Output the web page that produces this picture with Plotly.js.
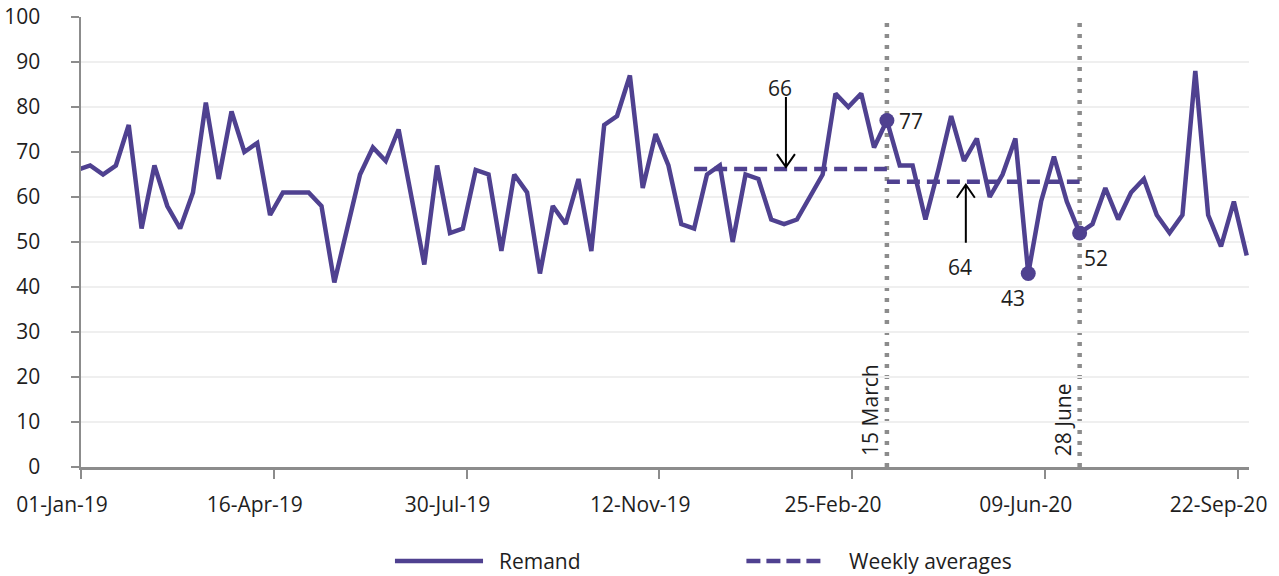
<!DOCTYPE html>
<html>
<head>
<meta charset="utf-8">
<script src="https://cdn.plot.ly/plotly-3.0.1.min.js"></script>
<style>
  html, body { margin: 0; padding: 0; background: #ffffff; }
  #chart { width: 1279px; height: 576px; }
</style>
</head>
<body>
<div id="chart"></div>
<script>
// ---------------- data ----------------
// Weekly series (week ending Sundays), first week 30-Dec-2018
const weekStart = '2018-12-30';
const remandValues = [
  66, 67, 65, 67, 76, 53, 67, 58, 53, 61,
  81, 64, 79, 70, 72, 56, 61, 61, 61, 58,
  41, 53, 65, 71, 68, 75, 60, 45, 67, 52,
  53, 66, 65, 48, 65, 61, 43, 58, 54, 64,
  48, 76, 78, 87, 62, 74, 67, 54, 53, 65,
  67, 50, 65, 64, 55, 54, 55, 60, 65, 83,
  80, 83, 71, 77, 67, 67, 55, 66, 78, 68,
  73, 60, 65, 73, 43, 59, 69, 59, 52, 54,
  62, 55, 61, 64, 56, 52, 56, 88, 56, 49,
  59, 47
];
// Weekly-average periods
const avgStart = ['2019-12-01', '2020-03-15'];
const avgEnd   = ['2020-03-15', '2020-06-28'];
const avgValue = [66.2, 63.4];
const avgLabel = ['66', '64'];
// Reference dates
const eventDates  = ['2020-03-15', '2020-06-28'];
const eventLabels = ['15 March', '28 June'];
// Highlighted points
const highlightDates = ['2020-03-15', '2020-05-31', '2020-06-28'];
// x tick labels
const xTickDates = ['2019-01-01', '2019-04-16', '2019-07-30', '2019-11-12', '2020-02-25', '2020-06-09', '2020-09-22'];
const xTickText  = ['01-Jan-19', '16-Apr-19', '30-Jul-19', '12-Nov-19', '25-Feb-20', '09-Jun-20', '22-Sep-20'];

// ---------------- build ----------------
function addDays(iso, n) {
  const d = new Date(iso + 'T00:00:00Z');
  d.setUTCDate(d.getUTCDate() + n);
  return d.toISOString().slice(0, 10);
}
const weekDates = remandValues.map((_, i) => addDays(weekStart, 7 * i));

const PURPLE = '#4f4190';
const GREY = '#8c8c8c';
const FONT = 'Open Sans, Noto Sans, DejaVu Sans, sans-serif';
const TXT = '#1e1e1e';

const traces = [];
traces.push({
  type: 'scatter', mode: 'lines', name: 'Remand',
  x: weekDates, y: remandValues,
  line: { color: PURPLE, width: 4.5 },
  showlegend: false, hoverinfo: 'x+y'
});
avgValue.forEach((v, i) => {
  traces.push({
    type: 'scatter', mode: 'lines', name: 'Weekly averages',
    x: [avgStart[i], avgEnd[i]], y: [v, v],
    line: { color: PURPLE, width: 4.5, dash: '13px,7px' },
    showlegend: false
  });
});
const hlY = highlightDates.map(d => remandValues[weekDates.indexOf(d)]);
traces.push({
  type: 'scatter', mode: 'markers', name: 'highlight',
  x: highlightDates, y: hlY,
  marker: { color: PURPLE, size: 15 },
  showlegend: false, cliponaxis: false
});

const shapes = [];
const annotations = [];

// event lines + labels
eventDates.forEach((d, i) => {
  shapes.push({
    type: 'line', xref: 'x', yref: 'y', x0: d, x1: d, y0: 0, y1: 100,
    line: { color: GREY, width: 4.5, dash: '4px,7px' }, layer: 'below'
  });
  annotations.push({
    x: d, y: 2, xref: 'x', yref: 'y', text: eventLabels[i], showarrow: false,
    textangle: -90, xanchor: 'center', yanchor: 'bottom', xshift: -17,
    font: { family: FONT, size: 21, color: TXT }
  });
});

// average arrows (pixel-sized shapes anchored on the average line) + labels
const arrowX = ['2020-01-20', '2020-04-27'];
const arrowDir = [-1, 1];   // -1: arrow points down from above, 1: points up from below
avgValue.forEach((v, i) => {
  const s = arrowDir[i];
  const tipOff = s < 0 ? 2 : -3;      // tip just touches the dashed line
  const len = s < 0 ? 70 : 58;
  const tail = tipOff - s * len;
  const arm = tipOff - s * 13;
  shapes.push({
    type: 'path', xref: 'x', yref: 'y', xsizemode: 'pixel', ysizemode: 'pixel',
    xanchor: arrowX[i], yanchor: v,
    path: 'M0,' + tail + ' L0,' + tipOff + ' M-9,' + arm + ' L0,' + tipOff + ' L9,' + arm,
    line: { color: '#000000', width: 2 }
  });
  annotations.push({
    x: arrowX[i], y: v, xref: 'x', yref: 'y', text: avgLabel[i], showarrow: false,
    xshift: -6, yshift: s < 0 ? 81 : -85,
    font: { family: FONT, size: 21, color: TXT }
  });
});

// point labels
const hlShiftX = [24, -15, 16];
const hlShiftY = [0, -24, -25];
highlightDates.forEach((d, i) => {
  annotations.push({
    x: d, y: hlY[i], xref: 'x', yref: 'y', text: String(hlY[i]), showarrow: false,
    xshift: hlShiftX[i], yshift: hlShiftY[i], xanchor: 'center',
    font: { family: FONT, size: 21, color: TXT }
  });
});

// custom legend
const legY = -0.209;
shapes.push({ type: 'line', xref: 'paper', yref: 'paper', x0: 0.2688, x1: 0.3442, y0: legY, y1: legY,
  line: { color: PURPLE, width: 4.5 } });
shapes.push({ type: 'line', xref: 'paper', yref: 'paper', x0: 0.5697, x1: 0.6367, y0: legY, y1: legY,
  line: { color: PURPLE, width: 4.5, dash: '14px,6px' } });
annotations.push({ x: 0.356, y: legY, xref: 'paper', yref: 'paper', text: 'Remand', showarrow: false,
  xanchor: 'left', yanchor: 'middle', font: { family: FONT, size: 21, color: TXT } });
annotations.push({ x: 0.6555, y: legY, xref: 'paper', yref: 'paper', text: 'Weekly averages', showarrow: false,
  xanchor: 'left', yanchor: 'middle', font: { family: FONT, size: 21, color: TXT } });

const layout = {
  width: 1279, height: 576,
  margin: { l: 81, r: 30, t: 17, b: 109 },
  paper_bgcolor: '#ffffff', plot_bgcolor: '#ffffff',
  showlegend: false,
  font: { family: FONT, size: 21, color: TXT },
  xaxis: {
    type: 'date', range: ['2019-01-01', '2020-09-28 06:00'],
    tickvals: xTickDates, ticktext: xTickText,
    showgrid: false, zeroline: false,
    showline: true, linecolor: GREY, linewidth: 2.5,
    ticks: 'outside', ticklen: 9, tickwidth: 2, tickcolor: GREY,
    ticklabelstandoff: 8, ticklabelshift: -19, ticklabeloverflow: 'allow',
    tickfont: { family: FONT, size: 21, color: TXT }
  },
  yaxis: {
    range: [0, 100], dtick: 10, tick0: 0,
    showgrid: true, gridcolor: '#efefef', gridwidth: 2,
    zeroline: false,
    showline: true, linecolor: GREY, linewidth: 2.5,
    ticks: 'outside', ticklen: 8, tickwidth: 2, tickcolor: GREY,
    ticklabelstandoff: 26,
    tickfont: { family: FONT, size: 21, color: TXT }
  },
  shapes: shapes,
  annotations: annotations
};

Plotly.newPlot('chart', traces, layout, { displayModeBar: false, staticPlot: true });
</script>
</body>
</html>
